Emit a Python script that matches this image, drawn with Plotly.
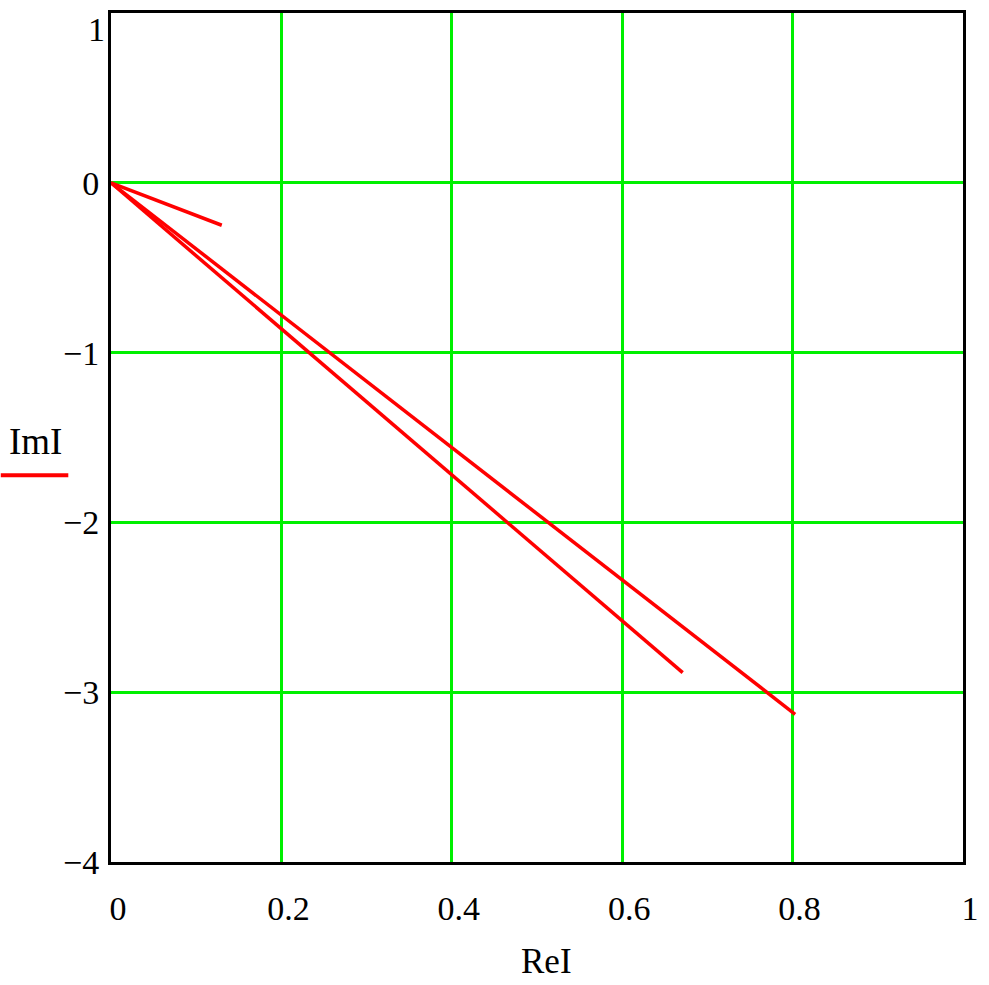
import plotly.graph_objects as go

# Phasor end points (real part, imaginary part) of the current vectors
re_end = [0.13, 0.671, 0.803]
im_end = [-0.25, -2.885, -3.13]

x_ticks = [0, 0.2, 0.4, 0.6, 0.8, 1]
x_labels = ["0", "0.2", "0.4", "0.6", "0.8", "1"]
y_ticks = [1, 0, -1, -2, -3, -4]
y_labels = ["1", "0", "\u22121", "\u22122", "\u22123", "\u22124"]

# Each vector drawn from the origin
xs, ys = [], []
for r, i in zip(re_end, im_end):
    xs += [0, r, None]
    ys += [0, i, None]

FONT = "Liberation Serif, Times New Roman, serif"
W, H = 989, 985
L, R, T, B = 111, 20, 10, 123
PW, PH = W - L - R, H - T - B

fig = go.Figure()
fig.add_trace(go.Scatter(x=xs, y=ys, mode="lines",
                         line=dict(color="#ff0000", width=3.5),
                         connectgaps=False, showlegend=False, hoverinfo="skip"))

fig.update_layout(
    width=W, height=H,
    margin=dict(l=L, r=R, t=T, b=B),
    paper_bgcolor="white", plot_bgcolor="white",
    font=dict(family=FONT, size=34, color="black"),
    showlegend=False,
)
fig.update_xaxes(range=[0, 1], tickvals=x_ticks, ticktext=x_labels,
                 showgrid=True, gridcolor="#00f000", gridwidth=3,
                 zeroline=False, showline=True, linecolor="black", linewidth=3,
                 mirror=True, ticks="", ticklabelstandoff=14, ticklabelshift=7,
                 ticklabeloverflow="allow",
                 tickfont=dict(family=FONT, size=34, color="black"))
# top y label is drawn as an annotation (it sits just inside the border)
fig.update_yaxes(range=[-4, 1], tickvals=y_ticks, ticktext=[""] + y_labels[1:],
                 showgrid=True, gridcolor="#00f000", gridwidth=3,
                 zeroline=False, showline=True, linecolor="black", linewidth=3,
                 mirror=True, ticks="", ticklabelstandoff=2,
                 ticklabeloverflow="allow",
                 tickfont=dict(family=FONT, size=34, color="black"))
fig.add_annotation(text=y_labels[0], xref="paper", yref="y",
                   x=-4 / PW, y=y_ticks[0], xanchor="right", yanchor="top",
                   yshift=4, showarrow=False,
                   font=dict(family=FONT, size=34, color="black"))

# axis title "ReI"
fig.add_annotation(text="ReI", xref="paper", yref="paper",
                   x=(550 - L) / PW, y=-(962 - (T + PH)) / PH,
                   showarrow=False, xanchor="center", yanchor="middle",
                   font=dict(family=FONT, size=35, color="black"))
# legend-like label "ImI" with red line sample
fig.add_annotation(text="ImI", xref="paper", yref="paper",
                   x=-(L - 35) / PW, y=(T + PH - 440) / PH,
                   showarrow=False, xanchor="center", yanchor="middle",
                   font=dict(family=FONT, size=37, color="black"))
fig.add_shape(type="line", xref="paper", yref="paper",
              x0=-L / PW, x1=-(L - 68) / PW,
              y0=(T + PH - 474) / PH, y1=(T + PH - 474) / PH,
              line=dict(color="#ff0000", width=4))

fig.write_html("out.html",
               config={"displayModeBar": False},
               post_script="document.body.style.margin='0';"
                           "document.body.style.overflow='hidden';")
